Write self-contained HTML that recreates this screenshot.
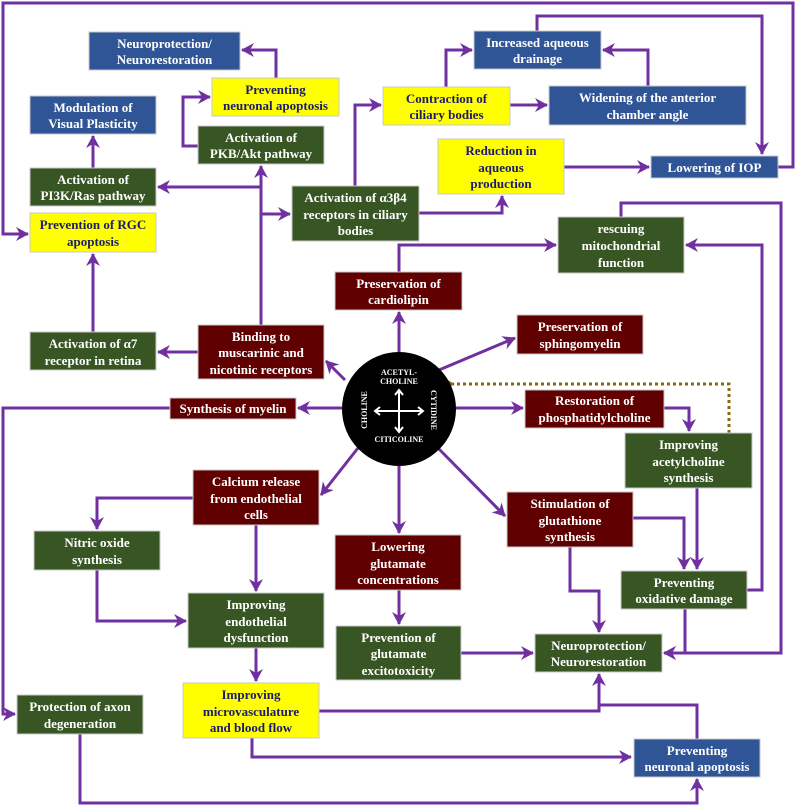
<!DOCTYPE html>
<html><head><meta charset="utf-8"><style>
html,body{margin:0;padding:0;background:#fff}
svg{display:block}
text{font-family:"Liberation Serif",serif;font-weight:bold;font-size:13px;text-anchor:middle}
.w{fill:#fff}.d{fill:#1a1a6e}
.b{fill:#2f5597}.g{fill:#375623}.m{fill:#600000}.y{fill:#ffff00}
rect{stroke:#c8c8c8;stroke-width:1}
.l{fill:none;stroke:#7030a0;stroke-width:3}
</style></head><body>
<svg width="795" height="807" viewBox="0 0 795 807" xmlns="http://www.w3.org/2000/svg">
<defs>
<marker id="a" markerUnits="userSpaceOnUse" markerWidth="14" markerHeight="14" refX="12" refY="7" orient="auto">
<path d="M0,0 L13,7 L0,14 L4,7 z" fill="#7030a0"/></marker>
<marker id="ab" markerUnits="userSpaceOnUse" markerWidth="14" markerHeight="14" refX="2" refY="7" orient="auto">
<path d="M13,0 L0,7 L13,14 L9,7 z" fill="#8b6914"/></marker>
</defs>

<g class="l">
<path d="M778,167 H793 V3 H3 V234 H28" marker-end="url(#a)"/>
<path d="M276,78 V50 H242" marker-end="url(#a)"/>
<path d="M198,146 H183 V97 H210" marker-end="url(#a)"/>
<path d="M93,168 V136" marker-end="url(#a)"/>
<path d="M261,325 V166" marker-end="url(#a)"/>
<path d="M261,187 H158" marker-end="url(#a)"/>
<path d="M261,214 H290" marker-end="url(#a)"/>
<path d="M198,352 H158" marker-end="url(#a)"/>
<path d="M93,332 V254" marker-end="url(#a)"/>
<path d="M355,186 V105 H381" marker-end="url(#a)"/>
<path d="M446,87 V50 H472" marker-end="url(#a)"/>
<path d="M510,105 H547" marker-end="url(#a)"/>
<path d="M648,86 V50 H603" marker-end="url(#a)"/>
<path d="M537,31 V16 H762 V154" marker-end="url(#a)"/>
<path d="M564,167 H649" marker-end="url(#a)"/>
<path d="M419,213 H502 V196" marker-end="url(#a)"/>
<path d="M399,352 V312" marker-end="url(#a)"/>
<path d="M399,272 V245 H556" marker-end="url(#a)"/>
<path d="M621,217 V203 H781 V653 H664" marker-end="url(#a)"/>
<path d="M685,609 V653 H664" marker-end="url(#a)"/>
<path d="M747,590 H762 V245 H686" marker-end="url(#a)"/>
<path d="M439,370 L515,338" marker-end="url(#a)"/>
<path d="M345,380 L326,361" marker-end="url(#a)"/>
<path d="M342,408 H298" marker-end="url(#a)"/>
<path d="M170,408 H3 V714 H15" marker-end="url(#a)"/>
<path d="M456,408 H523" marker-end="url(#a)"/>
<path d="M664,408 H689 V431" marker-end="url(#a)"/>
<path d="M438,448 L505,516" marker-end="url(#a)"/>
<path d="M633,518 H684 V569" marker-end="url(#a)"/>
<path d="M697,488 V569" marker-end="url(#a)"/>
<path d="M570,547 V591 H599 V632" marker-end="url(#a)"/>
<path d="M358,448 L321,495" marker-end="url(#a)"/>
<path d="M193,498 H97 V529" marker-end="url(#a)"/>
<path d="M97,570 V621 H186" marker-end="url(#a)"/>
<path d="M256,525 V591" marker-end="url(#a)"/>
<path d="M256,648 V681" marker-end="url(#a)"/>
<path d="M399,466 V533" marker-end="url(#a)"/>
<path d="M399,590 V624" marker-end="url(#a)"/>
<path d="M461,653 H533" marker-end="url(#a)"/>
<path d="M319,711 H599 V674" marker-end="url(#a)"/>
<path d="M697,739 V705 H599"/>
<path d="M252,738 V757 H631" marker-end="url(#a)"/>
<path d="M80,734 V803 H697 V779" marker-end="url(#a)"/>
</g>
<path d="M729,433 V384 H453" fill="none" stroke="#8b6914" stroke-width="3" stroke-dasharray="3,3" marker-end="url(#ab)"/>

<rect class="b" x="89" y="32" width="151" height="38"/><text class="w"><tspan x="164.5" y="48">Neuroprotection/</tspan><tspan x="164.5" y="64">Neurorestoration</tspan></text>
<rect class="y" x="212" y="78" width="127" height="38"/><text class="d"><tspan x="275.5" y="94">Preventing</tspan><tspan x="275.5" y="110">neuronal apoptosis</tspan></text>
<rect class="b" x="30" y="96" width="126" height="38"/><text class="w"><tspan x="93" y="112">Modulation of</tspan><tspan x="93" y="128">Visual Plasticity</tspan></text>
<rect class="g" x="198" y="126" width="126" height="38"/><text class="w"><tspan x="261" y="142">Activation of</tspan><tspan x="261" y="158">PKB/Akt pathway</tspan></text>
<rect class="g" x="30" y="168" width="126" height="38"/><text class="w"><tspan x="93" y="184">Activation of</tspan><tspan x="93" y="200">PI3K/Ras pathway</tspan></text>
<rect class="y" x="30" y="213" width="126" height="39"/><text class="d"><tspan x="93" y="229">Prevention of RGC</tspan><tspan x="93" y="246">apoptosis</tspan></text>
<rect class="g" x="292" y="186" width="127" height="55"/><text class="w"><tspan x="355.5" y="202">Activation of α3β4</tspan><tspan x="355.5" y="219">receptors in ciliary</tspan><tspan x="355.5" y="235">bodies</tspan></text>
<rect class="m" x="335" y="272" width="127" height="38"/><text class="w"><tspan x="398.5" y="288">Preservation of</tspan><tspan x="398.5" y="304">cardiolipin</tspan></text>
<rect class="m" x="198" y="325" width="126" height="54"/><text class="w"><tspan x="261" y="341">Binding to</tspan><tspan x="261" y="357">muscarinic and</tspan><tspan x="261" y="374">nicotinic receptors</tspan></text>
<rect class="g" x="30" y="332" width="126" height="38"/><text class="w"><tspan x="93" y="348">Activation of α7</tspan><tspan x="93" y="365">receptor in retina</tspan></text>
<rect class="y" x="383" y="87" width="127" height="38"/><text class="d"><tspan x="446.5" y="103">Contraction of</tspan><tspan x="446.5" y="119">ciliary bodies</tspan></text>
<rect class="b" x="474" y="31" width="127" height="38"/><text class="w"><tspan x="537.5" y="47">Increased aqueous</tspan><tspan x="537.5" y="63">drainage</tspan></text>
<rect class="b" x="549" y="86" width="197" height="39"/><text class="w"><tspan x="647.5" y="102">Widening of the anterior</tspan><tspan x="647.5" y="119">chamber angle</tspan></text>
<rect class="y" x="438" y="139" width="126" height="55"/><text class="d"><tspan x="501" y="155">Reduction in</tspan><tspan x="501" y="172">aqueous</tspan><tspan x="501" y="188">production</tspan></text>
<rect class="b" x="651" y="156" width="127" height="22"/><text class="w"><tspan x="714.5" y="172">Lowering of IOP</tspan></text>
<rect class="g" x="558" y="217" width="126" height="56"/><text class="w"><tspan x="621" y="233">rescuing</tspan><tspan x="621" y="250">mitochondrial</tspan><tspan x="621" y="267">function</tspan></text>
<rect class="m" x="517" y="315" width="126" height="39"/><text class="w"><tspan x="580" y="331">Preservation of</tspan><tspan x="580" y="348">sphingomyelin</tspan></text>
<rect class="m" x="170" y="398" width="126" height="21"/><text class="w"><tspan x="233" y="413">Synthesis of myelin</tspan></text>
<rect class="m" x="525" y="390" width="139" height="38"/><text class="w"><tspan x="594.5" y="405">Restoration of</tspan><tspan x="594.5" y="422">phosphatidylcholine</tspan></text>
<rect class="g" x="625" y="433" width="127" height="55"/><text class="w"><tspan x="688.5" y="449">Improving</tspan><tspan x="688.5" y="466">acetylcholine</tspan><tspan x="688.5" y="482">synthesis</tspan></text>
<rect class="m" x="193" y="470" width="126" height="55"/><text class="w"><tspan x="256" y="486">Calcium release</tspan><tspan x="256" y="503">from endothelial</tspan><tspan x="256" y="519">cells</tspan></text>
<rect class="g" x="34" y="531" width="126" height="39"/><text class="w"><tspan x="97" y="547">Nitric oxide</tspan><tspan x="97" y="564">synthesis</tspan></text>
<rect class="m" x="507" y="492" width="126" height="55"/><text class="w"><tspan x="570" y="508">Stimulation of</tspan><tspan x="570" y="525">glutathione</tspan><tspan x="570" y="541">synthesis</tspan></text>
<rect class="m" x="335" y="535" width="126" height="55"/><text class="w"><tspan x="398" y="551">Lowering</tspan><tspan x="398" y="568">glutamate</tspan><tspan x="398" y="584">concentrations</tspan></text>
<rect class="g" x="621" y="571" width="126" height="38"/><text class="w"><tspan x="684" y="587">Preventing</tspan><tspan x="684" y="603">oxidative damage</tspan></text>
<rect class="g" x="188" y="593" width="136" height="55"/><text class="w"><tspan x="256" y="609">Improving</tspan><tspan x="256" y="626">endothelial</tspan><tspan x="256" y="642">dysfunction</tspan></text>
<rect class="g" x="336" y="626" width="125" height="54"/><text class="w"><tspan x="398.5" y="642">Prevention of</tspan><tspan x="398.5" y="658">glutamate</tspan><tspan x="398.5" y="675">excitotoxicity</tspan></text>
<rect class="g" x="535" y="634" width="127" height="38"/><text class="w"><tspan x="598.5" y="650">Neuroprotection/</tspan><tspan x="598.5" y="666">Neurorestoration</tspan></text>
<rect class="y" x="183" y="683" width="136" height="55"/><text class="d"><tspan x="251" y="699">Improving</tspan><tspan x="251" y="716">microvasculature</tspan><tspan x="251" y="732">and blood flow</tspan></text>
<rect class="g" x="17" y="695" width="126" height="39"/><text class="w"><tspan x="80" y="711">Protection of axon</tspan><tspan x="80" y="728">degeneration</tspan></text>
<rect class="b" x="634" y="739" width="126" height="38"/><text class="w"><tspan x="697" y="755">Preventing</tspan><tspan x="697" y="771">neuronal apoptosis</tspan></text>

<circle cx="399" cy="409" r="57" fill="#000"/>
<g style="font-size:8px" class="w">
<text class="w" style="font-size:8px"><tspan x="399" y="375">ACETYL-</tspan><tspan x="399" y="384">CHOLINE</tspan></text>
<text class="w" style="font-size:8px" x="399" y="442">CITICOLINE</text>
<text class="w" style="font-size:8px" transform="translate(367,410) rotate(-90)" x="0" y="0">CHOLINE</text>
<text class="w" style="font-size:8px" transform="translate(431,410) rotate(90)" x="0" y="0">CYTIDINE</text>
</g>
<g stroke="#fff" stroke-width="2" fill="none">
<path d="M375,411 H423 M399,390 V432"/>
<path d="M380,407 L375,411 L380,415 M418,407 L423,411 L418,415 M395,395 L399,390 L403,395 M395,427 L399,432 L403,427"/>
</g>
</svg>
</body></html>
